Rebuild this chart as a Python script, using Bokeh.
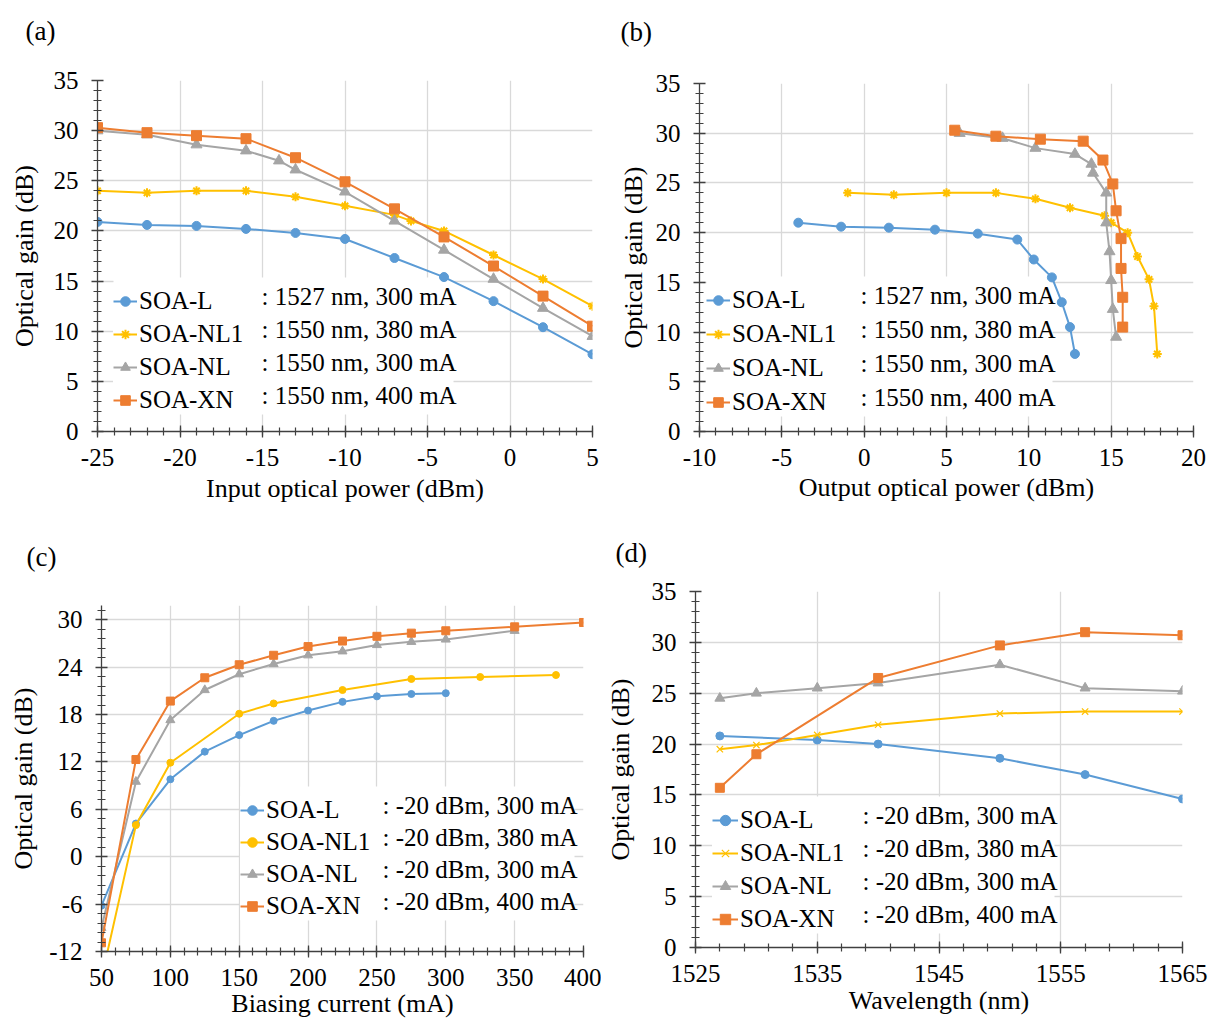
from bokeh.plotting import figure
from bokeh.layouts import column, row
from bokeh.models import (Range1d, SingleIntervalTicker, FixedTicker, Legend, LegendItem, Label,
                          CustomJSTickFormatter, BoxAnnotation)
from bokeh.embed import file_html
from bokeh.resources import INLINE

FONT = "Liberation Serif"
C_L, C_NL1, C_NL, C_XN = "#5B9BD5", "#FFC000", "#A5A5A5", "#ED7D31"

series_names = ["SOA-L", "SOA-NL1", "SOA-NL", "SOA-XN"]
ab_notes = [": 1527 nm, 300 mA", ": 1550 nm, 380 mA", ": 1550 nm, 300 mA", ": 1550 nm, 400 mA"]
cd_notes = [": -20 dBm, 300 mA", ": -20 dBm, 380 mA", ": -20 dBm, 300 mA", ": -20 dBm, 400 mA"]

# ---- (a) gain vs input power
a_L_x = [-25, -22, -19, -16, -13, -10, -7, -4, -1, 2, 5]
a_L = [20.9, 20.6, 20.5, 20.2, 19.8, 19.2, 17.3, 15.4, 13.0, 10.4, 7.7]
a_NL1_x = [-25, -22, -19, -16, -13, -10, -7, -6, -4, -1, 2, 5]
a_NL1 = [24.0, 23.8, 24.0, 24.0, 23.4, 22.5, 21.6, 21.0, 20.0, 17.6, 15.2, 12.5]
a_NL_x = [-25, -22, -19, -16, -14, -13, -10, -7, -4, -1, 2, 5]
a_NL = [30.0, 29.6, 28.6, 28.0, 27.0, 26.1, 23.9, 21.0, 18.1, 15.2, 12.3, 9.5]
a_XN_x = [-25, -22, -19, -16, -13, -10, -7, -4, -1, 2, 5]
a_XN = [30.3, 29.8, 29.5, 29.2, 27.3, 24.9, 22.2, 19.4, 16.5, 13.5, 10.5]

# ---- (b) gain vs output power
b_L_x = [-4.0, -1.4, 1.5, 4.3, 6.9, 9.3, 10.3, 11.4, 12.0, 12.5, 12.8]
b_L = [21.0, 20.6, 20.5, 20.3, 19.9, 19.3, 17.3, 15.5, 13.0, 10.5, 7.8]
b_NL1_x = [-1.0, 1.8, 5.0, 8.0, 10.4, 12.5, 14.6, 15.0, 16.0, 16.6, 17.3, 17.6, 17.8]
b_NL1 = [24.0, 23.8, 24.0, 24.0, 23.4, 22.5, 21.7, 21.0, 20.0, 17.6, 15.3, 12.6, 7.8]
b_NL_x = [5.8, 8.4, 10.4, 12.8, 13.8, 13.9, 14.7, 14.7, 14.9, 15.0, 15.1, 15.3]
b_NL = [30.0, 29.5, 28.5, 27.9, 26.9, 26.0, 24.0, 21.0, 18.1, 15.2, 12.3, 9.5]
b_XN_x = [5.5, 8.0, 10.7, 13.3, 14.5, 15.1, 15.3, 15.6, 15.6, 15.7, 15.7]
b_XN = [30.3, 29.7, 29.4, 29.2, 27.3, 24.9, 22.2, 19.4, 16.4, 13.5, 10.5]

# ---- (c) gain vs biasing current
c_L_x = [50, 75, 100, 125, 150, 175, 200, 225, 250, 275, 300]
c_L = [-6.2, 4.2, 9.8, 13.3, 15.4, 17.2, 18.5, 19.6, 20.3, 20.6, 20.7]
c_NL1_x = [50, 75, 100, 150, 175, 225, 275, 325, 380]
c_NL1 = [-15.4, 4.0, 11.9, 18.1, 19.4, 21.1, 22.5, 22.75, 23.0]
c_NL_x = [50, 75, 100, 125, 150, 175, 200, 225, 250, 275, 300, 350]
c_NL = [-9.0, 9.5, 17.3, 21.1, 23.1, 24.4, 25.5, 26.0, 26.8, 27.2, 27.5, 28.6]
c_XN_x = [50, 75, 100, 125, 150, 175, 200, 225, 250, 275, 300, 350, 400]
c_XN = [-10.9, 12.3, 19.7, 22.65, 24.3, 25.5, 26.6, 27.3, 27.9, 28.3, 28.6, 29.1, 29.65]

# ---- (d) gain vs wavelength
d_L_x = [1527, 1535, 1540, 1550, 1557, 1565]
d_L = [20.8, 20.4, 20.0, 18.6, 17.0, 14.6]
d_NL1_x = [1527, 1530, 1535, 1540, 1550, 1557, 1565]
d_NL1 = [19.5, 19.9, 20.9, 21.9, 23.0, 23.2, 23.2]
d_NL_x = [1527, 1530, 1535, 1540, 1550, 1557, 1565]
d_NL = [24.5, 25.0, 25.5, 26.0, 27.8, 25.5, 25.2]
d_XN_x = [1527, 1530, 1540, 1550, 1557, 1565]
d_XN = [15.7, 19.0, 26.5, 29.7, 31.0, 30.7]


def make_panel(spec):
    xr, yr, fw, fh = spec["xr"], spec["yr"], spec["fw"], spec["fh"]
    l, r, t, b = spec["borders"]
    p = figure(x_range=Range1d(*xr), y_range=Range1d(*yr), frame_width=fw, frame_height=fh,
               min_border=0, min_border_left=l, min_border_right=r, min_border_top=t,
               min_border_bottom=b, output_backend="svg", toolbar_location=None)
    p.outline_line_color = None
    p.background_fill_color = "white"
    p.border_fill_color = "white"
    p.xaxis.ticker = spec["xt"]
    p.xgrid.ticker = spec["xt"]
    p.yaxis.ticker = spec["yt"]
    p.ygrid.ticker = spec["yt"]
    for g in (p.xgrid, p.ygrid):
        g.grid_line_color = "#D9D9D9"
        g.grid_line_width = 1.3
    fmt = CustomJSTickFormatter(code="return tick.toFixed(0);")
    for ax in (p.xaxis[0], p.yaxis[0]):
        ax.formatter = fmt
        ax.axis_line_color = "#404040"
        ax.axis_line_width = 1.3
        ax.major_tick_line_color = "#404040"
        ax.major_tick_line_width = 1.3
        ax.major_tick_in = 6
        ax.major_tick_out = 6
        ax.minor_tick_line_color = "#404040"
        ax.minor_tick_line_width = 1.2
        ax.minor_tick_in = 4
        ax.minor_tick_out = 4
        ax.major_label_text_font = FONT
        ax.major_label_text_font_size = "25px"
        ax.major_label_text_color = "black"
        ax.axis_label_text_font = FONT
        ax.axis_label_text_font_size = "26px"
        ax.axis_label_text_font_style = "normal"
        ax.axis_label_text_color = "black"
    p.xaxis.major_label_standoff = 11
    p.yaxis.major_label_standoff = 13
    p.xaxis.axis_label = spec["xtitle"]
    p.xaxis.axis_label_standoff = spec["xls"]
    p.yaxis.axis_label = "Optical gain (dB)"
    p.yaxis.axis_label_standoff = spec["yls"]

    p.title.text = spec["tag"]
    p.title.text_font = FONT
    p.title.text_font_size = "27px"
    p.title.text_font_style = "normal"
    p.title.text_color = "black"
    p.title.align = "left"
    p.title.offset = spec["tag_dx"]
    p.title.standoff = spec["tag_standoff"]

    def X(dx):
        return xr[0] + dx * (xr[1] - xr[0]) / fw

    def Y(dy):
        return yr[0] + dy * (yr[1] - yr[0]) / fh

    lg = spec["legend"]
    pad, h, sp = 5, 28, lg["spacing"]
    n = len(series_names)
    box_top = lg["dy"] + 2 * pad + n * h + (n - 1) * sp
    p.add_layout(BoxAnnotation(left=X(lg["dx"]), right=X(lg["nx"] + 192),
                               bottom=Y(lg["dy"]), top=Y(box_top),
                               fill_color="white", fill_alpha=1.0, line_color=None,
                               level="underlay"))

    items = []
    for (xs, ys, col, mk, sz, mlw), name in zip(spec["series"], series_names):
        rl = p.line(xs, ys, line_color=col, line_width=spec["lw"])
        rs = p.scatter(xs, ys, marker=mk, size=sz, fill_color=col, line_color=col, line_width=mlw)
        items.append(LegendItem(label=name, renderers=[rl, rs]))

    leg = Legend(items=items, location=(lg["dx"], lg["dy"]), padding=pad, margin=0,
                 spacing=sp, label_height=h, glyph_height=h, glyph_width=lg["gw"],
                 label_standoff=2,
                 label_text_font=FONT, label_text_font_size="25px", label_text_color="black",
                 border_line_color=None, background_fill_color="white", background_fill_alpha=1.0)
    p.add_layout(leg)
    for i, note in enumerate(spec["notes"]):
        cy = lg["dy"] + pad + (n - 1 - i) * (h + sp) + h / 2
        p.add_layout(Label(x=X(lg["nx"]), y=Y(cy), text=note, text_font=FONT,
                           text_font_size="25px", text_color="black",
                           text_align="left", text_baseline="middle"))
    return p


spec_a = dict(xr=(-25, 5), yr=(0, 35), fw=495, fh=351, borders=(97, 9, 80, 81),
              xt=SingleIntervalTicker(interval=5, num_minor_ticks=5),
              yt=SingleIntervalTicker(interval=5, num_minor_ticks=5), lw=2,
              series=[(a_L_x, a_L, C_L, "circle", 9, 1),
                      (a_NL1_x, a_NL1, C_NL1, "asterisk", 9, 2),
                      (a_NL_x, a_NL, C_NL, "triangle", 11, 1),
                      (a_XN_x, a_XN, C_XN, "square", 10, 1)],
              legend=dict(dx=16, dy=17, spacing=5, gw=24, nx=164), notes=ab_notes,
              xtitle="Input optical power (dBm)", xls=5, yls=12,
              tag="(a)\n", tag_dx=-72, tag_standoff=9)

spec_b = dict(xr=(-10, 20), yr=(0, 35), fw=494, fh=348, borders=(98, 23, 83, 81),
              xt=SingleIntervalTicker(interval=5, num_minor_ticks=5),
              yt=SingleIntervalTicker(interval=5, num_minor_ticks=5), lw=2,
              series=[(b_L_x, b_L, C_L, "circle", 9, 1),
                      (b_NL1_x, b_NL1, C_NL1, "asterisk", 9, 2),
                      (b_NL_x, b_NL, C_NL, "triangle", 11, 1),
                      (b_XN_x, b_XN, C_XN, "square", 10, 1)],
              legend=dict(dx=7, dy=15, spacing=6, gw=24, nx=161), notes=ab_notes,
              xtitle="Output optical power (dBm)", xls=4, yls=5,
              tag="(b)\n", tag_dx=-79, tag_standoff=13)

spec_c = dict(xr=(50, 400), yr=(-12, 31.8), fw=482, fh=346, borders=(101, 18, 93, 65),
              xt=SingleIntervalTicker(interval=50, num_minor_ticks=5),
              yt=SingleIntervalTicker(interval=6, num_minor_ticks=5), lw=2,
              series=[(c_L_x, c_L, C_L, "circle", 7, 1),
                      (c_NL1_x, c_NL1, C_NL1, "circle", 7, 1),
                      (c_NL_x, c_NL, C_NL, "triangle", 9, 1),
                      (c_XN_x, c_XN, C_XN, "square", 8, 1)],
              legend=dict(dx=139, dy=31, spacing=4, gw=24, nx=281), notes=cd_notes,
              xtitle="Biasing current (mA)", xls=0, yls=8,
              tag="(c)\n", tag_dx=-75, tag_standoff=7)

spec_d = dict(xr=(1525, 1565), yr=(0, 35), fw=487, fh=356, borders=(94, 34, 79, 69),
              xt=FixedTicker(ticks=[1525, 1535, 1545, 1555, 1565],
                             minor_ticks=list(range(1525, 1566, 2))),
              yt=SingleIntervalTicker(interval=5, num_minor_ticks=5), lw=2,
              series=[(d_L_x, d_L, C_L, "circle", 8, 1),
                      (d_NL1_x, d_NL1, C_NL1, "x", 9, 1.2),
                      (d_NL_x, d_NL, C_NL, "triangle", 10, 1),
                      (d_XN_x, d_XN, C_XN, "square", 9, 1)],
              legend=dict(dx=17, dy=14, spacing=5, gw=26, nx=167), notes=cd_notes,
              xtitle="Wavelength (nm)", xls=1, yls=14,
              tag="(d)", tag_dx=-80, tag_standoff=47)

pa, pb, pc, pd = (make_panel(s) for s in (spec_a, spec_b, spec_c, spec_d))
left_col = column(row(pa), row(pc))
right_col = column(row(pb), row(pd))
layout = row(left_col, right_col)
open("out.html", "w").write(file_html(layout, INLINE))
